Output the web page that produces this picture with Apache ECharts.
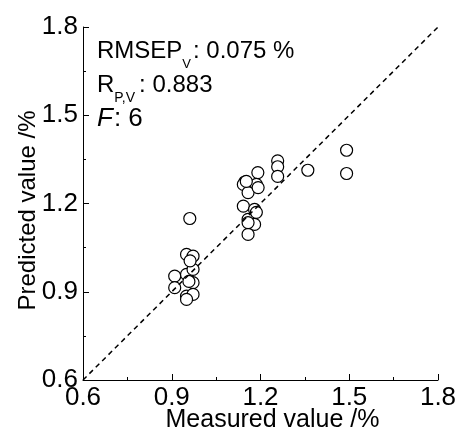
<!DOCTYPE html>
<html><head><meta charset="utf-8">
<script src="https://cdn.jsdelivr.net/npm/echarts@6/dist/echarts.min.js"></script>
<style>html,body{margin:0;padding:0;background:#fff}#c{width:460px;height:430px}</style>
</head><body><div id="c"></div>
<script>
// Measured (x) and predicted (y) values
const measured = [0.910, 0.910, 0.950, 0.972, 0.950, 0.972, 0.972, 0.950, 0.972, 0.950, 0.961, 0.962, 0.958,
  1.191, 1.147, 1.142, 1.186, 1.158, 1.192, 1.142, 1.180, 1.158, 1.180, 1.158, 1.158, 1.152, 1.186,
  1.258, 1.258, 1.258, 1.360, 1.491, 1.491];
const predicted = [0.953, 0.914, 1.027, 1.021, 0.959, 0.976, 0.931, 0.885, 0.891, 0.874, 1.149, 1.005, 0.935,
  1.305, 1.273, 1.265, 1.265, 1.237, 1.254, 1.191, 1.180, 1.146, 1.129, 1.095, 1.135, 1.275, 1.170,
  1.345, 1.325, 1.292, 1.313, 1.381, 1.302];
const refLine = [0.6, 1.8];
const tickLabels = ['0.6', '0.9', '1.2', '1.5', '1.8'];

const F = '"Liberation Sans", Arial, sans-serif';
const chart = echarts.init(document.getElementById('c'));

const ctx = document.createElement('canvas').getContext('2d');
function tw(t, size, italic) { ctx.font = (italic ? 'italic ' : '') + size + 'px "Liberation Sans"'; return ctx.measureText(t).width; }
const MS = 24, SS = 13, SS2 = 14, FS = 26;
function txt(t, x, y, size, italic) {
  return { type: 'text', x: x, y: y, z: 100, style: { text: t, fill: '#000', fontSize: size, fontFamily: F, fontStyle: italic ? 'italic' : 'normal', textAlign: 'left', verticalAlign: 'middle', textVerticalAlign: 'middle' } };
}
const x0 = 97;
const g = [];
// line 1
g.push(txt('RMSEP', x0, 51, MS));
let xa = x0 + tw('RMSEP', MS);
g.push(txt('V', xa, 64, SS));
xa += tw('V', SS) + 2;
g.push(txt(': 0.075 %', xa, 51, MS));
// line 2
g.push(txt('R', x0, 85, MS));
xa = x0 + tw('R', MS);
g.push(txt('P,V', xa, 98.5, SS2));
xa += tw('P,V', SS2) + 4;
g.push(txt(': 0.883', xa, 85, MS));
// line 3
g.push(txt('F', x0, 119, FS, true));
xa = x0 + tw('F', FS, true) + 1;
g.push(txt(': 6', xa, 119, FS));

function axisCommon(name) {
  return {
    type: 'value', min: 0.6, max: 1.8, interval: 0.3,
    axisLine: { show: true, onZero: false, lineStyle: { color: '#000', width: 1 } },
    axisTick: { show: true, inside: true, length: 6, lineStyle: { color: '#000', width: 1 } },
    minorTick: { show: true, splitNumber: 2, length: 3, lineStyle: { color: '#000', width: 1 } },
    splitLine: { show: false },
    axisLabel: { color: '#000', fontSize: 26, fontFamily: F, margin: 5, formatter: (v, i) => tickLabels[i] },
    name: name, nameLocation: 'middle', nameMoveOverlap: false,
    nameTextStyle: { color: '#000', fontSize: 25, fontFamily: F }
  };
}
const xAx = axisCommon('Measured value /%');
xAx.nameGap = 28;
xAx.nameTextStyle.padding = [0, 0, 0, 24];
const yAx = axisCommon('Predicted value /%');
yAx.nameGap = 43;
yAx.nameRotate = 90;
yAx.nameTextStyle.fontSize = 24;
yAx.nameTextStyle.padding = [0, 14, 0, 0];

chart.setOption({
  animation: false,
  backgroundColor: '#fff',
  grid: { left: 83, right: 22, top: 27, bottom: 50, outerBoundsMode: 'none', containLabel: false },
  xAxis: xAx,
  yAxis: yAx,
  graphic: g,
  series: [
    {
      type: 'scatter', symbol: 'circle', symbolSize: 12,
      itemStyle: { color: '#fff', borderColor: '#000', borderWidth: 1.2, opacity: 1 },
      data: measured.map((m, i) => [m, predicted[i]]), z: 2
    },
    {
      type: 'line', symbol: 'none', z: 3,
      lineStyle: { color: '#000', width: 1.5, type: [5, 4] },
      data: refLine.map(v => [v, v])
    }
  ]
});
</script></body></html>
